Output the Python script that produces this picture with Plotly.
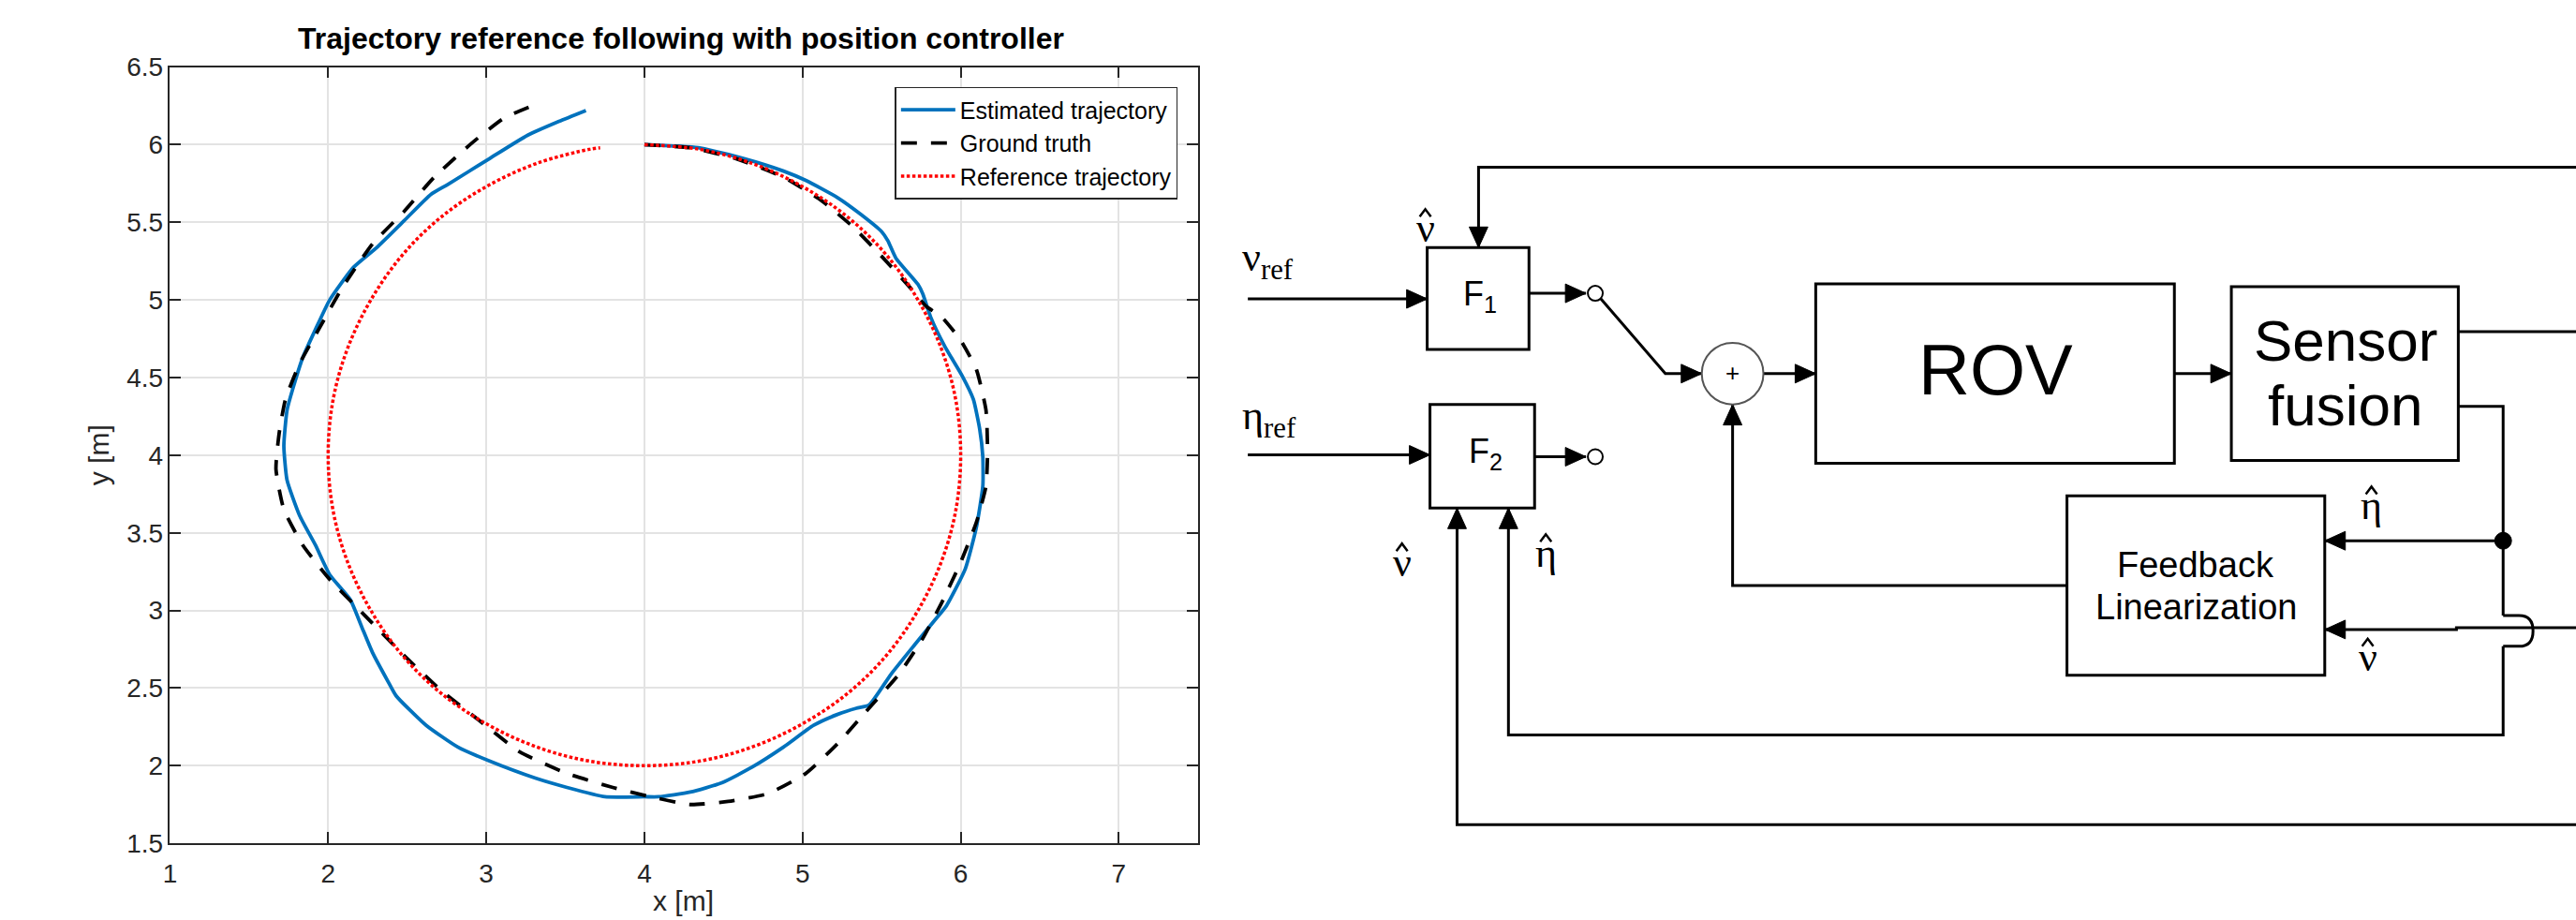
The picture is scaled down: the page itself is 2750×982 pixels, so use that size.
import plotly.graph_objects as go

# ---------------- data ----------------
est_x = [4.00, 4.34, 4.63, 4.88, 5.02, 5.22, 5.37, 5.50, 5.54, 5.59, 5.73, 5.76, 5.81, 5.90, 6.01, 6.08,
         6.12, 6.14, 6.14, 6.10, 6.03, 5.91, 5.83, 5.71, 5.56, 5.42, 5.34, 5.22, 5.07, 4.88, 4.68, 4.49,
         4.29, 4.09, 4.00, 3.75, 3.51, 3.31, 3.02, 2.82, 2.62, 2.43, 2.38, 2.28, 2.21, 2.14, 2.01, 1.92,
         1.82, 1.74, 1.72, 1.74, 1.78, 1.84, 1.92, 2.01, 2.16, 2.31, 2.48, 2.65, 2.75, 3.02, 3.26, 3.46, 3.63]
est_y = [6.00, 5.98, 5.91, 5.83, 5.77, 5.66, 5.55, 5.44, 5.38, 5.27, 5.10, 5.04, 4.89, 4.70, 4.51, 4.36,
         4.17, 3.99, 3.80, 3.54, 3.27, 3.03, 2.93, 2.78, 2.59, 2.39, 2.37, 2.33, 2.26, 2.12, 1.99, 1.89,
         1.83, 1.80, 1.80, 1.80, 1.86, 1.92, 2.03, 2.12, 2.26, 2.45, 2.54, 2.73, 2.90, 3.07, 3.23, 3.42,
         3.61, 3.84, 4.06, 4.29, 4.44, 4.63, 4.81, 5.00, 5.21, 5.34, 5.51, 5.68, 5.74, 5.91, 6.06, 6.15, 6.22]

gt_x = [4.00, 4.29, 4.58, 4.88, 5.12, 5.32, 5.51, 5.68, 5.78, 5.88, 6.00, 6.10, 6.16, 6.17, 6.16, 6.10,
        6.00, 5.88, 5.76, 5.61, 5.42, 5.22, 5.02, 4.78, 4.53, 4.29, 4.04, 3.80, 3.51, 3.21, 2.97, 2.72,
        2.48, 2.23, 2.01, 1.84, 1.72, 1.67, 1.69, 1.73, 1.82, 1.94, 2.09, 2.28, 2.48, 2.67, 2.92, 3.11, 3.29]
gt_y = [6.00, 5.98, 5.91, 5.79, 5.64, 5.47, 5.27, 5.08, 4.96, 4.89, 4.74, 4.55, 4.29, 4.02, 3.80, 3.57,
        3.31, 3.05, 2.82, 2.59, 2.37, 2.14, 1.95, 1.82, 1.77, 1.75, 1.80, 1.86, 1.95, 2.09, 2.28, 2.48,
        2.71, 2.97, 3.20, 3.42, 3.65, 3.91, 4.14, 4.36, 4.59, 4.81, 5.08, 5.36, 5.57, 5.79, 6.02, 6.17, 6.25]

ref_x = [4.00, 4.35, 4.68, 5.00, 5.29, 5.53, 5.73, 5.88, 5.97, 6.00, 5.97, 5.88, 5.73, 5.53, 5.29, 5.00,
         4.68, 4.35, 4.00, 3.65, 3.32, 3.00, 2.71, 2.47, 2.27, 2.12, 2.03, 2.00, 2.03, 2.12, 2.27, 2.47,
         2.71, 3.00, 3.32, 3.65, 3.72]
ref_y = [6.00, 5.97, 5.88, 5.73, 5.53, 5.29, 5.00, 4.68, 4.35, 4.00, 3.65, 3.32, 3.00, 2.71, 2.47, 2.27,
         2.12, 2.03, 2.00, 2.03, 2.12, 2.27, 2.47, 2.71, 3.00, 3.32, 3.65, 4.00, 4.35, 4.68, 5.00, 5.29,
         5.53, 5.73, 5.88, 5.97, 5.98]

series_names = ["Estimated trajectory", "Ground truth", "Reference trajectory"]
x_ticks = [1, 2, 3, 4, 5, 6, 7]
y_ticks = [1.5, 2, 2.5, 3, 3.5, 4, 4.5, 5, 5.5, 6, 6.5]
title_text = "Trajectory reference following with position controller"
x_label = "x [m]"
y_label = "y [m]"

# ---------------- block diagram (pixel layout) ----------------
W, H = 2750, 982
boxes = [(1520, 264, 1629, 373), (1523, 432, 1635, 543), (1936, 303, 2320, 495),
         (2381, 306, 2624, 492), (2205, 530, 2481, 722)]
box_texts = [("F<sub>1</sub>", 1577, 316, 36), ("F<sub>2</sub>", 1583, 484, 36), ("ROV", 2129, 395, 76),
             ("Sensor", 2503, 364, 62), ("fusion", 2503, 433, 62),
             ("Feedback", 2343, 604, 38), ("Linearization", 2343, 649, 38)]
wires = [
    ([(2750, 178), (1575, 178), (1575, 264)], True),
    ([(1328, 319), (1520, 319)], True),
    ([(1629, 313), (1690, 313)], True),
    ([(1706, 319), (1775, 399), (1814, 399)], True),
    ([(1880, 399), (1936, 399)], True),
    ([(2320, 399), (2381, 399)], True),
    ([(2624, 354), (2750, 354)], False),
    ([(2624, 434), (2672, 434), (2672, 658)], False),
    ([(2672, 691), (2672, 786), (1607, 786), (1607, 543)], True),
    ([(2672, 578), (2481, 578)], True),
    ([(2750, 671), (2622, 671), (2622, 673), (2481, 673)], True),
    ([(2205, 626), (1847, 626), (1847, 432)], True),
    ([(2750, 882), (1552, 882), (1552, 543)], True),
    ([(1635, 488), (1690, 488)], True),
    ([(1328, 486), (1523, 486)], True),
]
hop = [(2672, 658), (2689, 658), (2704, 658), (2704, 674.5), (2704, 691), (2689, 691), (2672, 691)]
small_circles = [(1700, 313), (1700, 488)]
sum_circle = (1847, 399, 33)
junction = (2672, 578)
# greek labels: (text, x, body-centre y, hat, anchor)
greek = [("ν", 1518, 248, True, "center"), ("ν<sub>ref</sub>", 1320, 282, False, "left"),
         ("η<sub>ref</sub>", 1320, 452, False, "left"),
         ("ν", 1493, 606, True, "center"), ("η", 1647, 596, True, "center"),
         ("η", 2531, 545, True, "center"), ("ν", 2527, 708, True, "center")]

# the page is shown slightly squeezed vertically about its middle; place things so they land right
SQ, MID = 0.9716, 491.0


def YC(y):
    return MID + (y - MID) / SQ


def PX(x):
    return x / W


def PY(y):
    return 1 - YC(y) / H


fig = go.Figure()

fig.add_trace(go.Scatter(x=est_x, y=est_y, mode="lines", name=series_names[0],
                         line=dict(color="#0072BD", width=3.8, shape="spline", smoothing=0.5)))
fig.add_trace(go.Scatter(x=gt_x, y=gt_y, mode="lines", name=series_names[1],
                         line=dict(color="black", width=3.8, dash="17px,15px", shape="spline", smoothing=0.5)))
fig.add_trace(go.Scatter(x=ref_x, y=ref_y, mode="lines", name=series_names[2],
                         line=dict(color="#FF0000", width=3.5, dash="3.5px,2.5px", shape="spline", smoothing=1)))

axcol = "#262626"
fig.update_layout(
    width=W, height=H, margin=dict(l=0, r=0, t=0, b=0),
    paper_bgcolor="white", plot_bgcolor="white",
    font=dict(family="Liberation Sans, Arial, Helvetica, sans-serif", color=axcol),
    xaxis=dict(domain=[174 / W, 1274.5 / W], range=[1, 7.5], tickvals=x_ticks, ticks="inside", ticklen=12,
               tickwidth=1.5, tickcolor=axcol, showline=True, linecolor=axcol, linewidth=1.5, mirror="ticks",
               showgrid=True, gridcolor="#E3E3E3", gridwidth=1.5, zeroline=False, ticklabelstandoff=6,
               tickfont=dict(size=28, color=axcol)),
    yaxis=dict(domain=[PY(902), PY(70.7)], range=[1.5, 6.5], tickvals=y_ticks,
               ticktext=[("%g" % v) for v in y_ticks], ticks="inside", ticklen=12,
               tickwidth=1.5, tickcolor=axcol, showline=True, linecolor=axcol, linewidth=1.5, mirror="ticks",
               showgrid=True, gridcolor="#E3E3E3", gridwidth=1.5, zeroline=False,
               tickfont=dict(size=28, color=axcol)),
    legend=dict(x=1253 / W, y=PY(92), xanchor="right", yanchor="top", bgcolor="white",
                bordercolor=axcol, borderwidth=1.5, font=dict(size=25, color="black"),
                tracegroupgap=0, itemwidth=58),
    showlegend=True,
)

ann = []
ann.append(dict(text="<b>" + title_text + "</b>", x=721 / W, y=PY(40), xref="paper", yref="paper",
                showarrow=False, font=dict(size=32, color="black"), xanchor="center", yanchor="middle"))
ann.append(dict(text=y_label, x=98 / W, y=PY(486), xref="paper", yref="paper", textangle=-90,
                showarrow=False, font=dict(size=30, color=axcol), xanchor="center", yanchor="middle"))
ann.append(dict(text=x_label, x=724 / W, y=PY(964), xref="paper", yref="paper",
                showarrow=False, font=dict(size=30, color=axcol), xanchor="center", yanchor="middle"))

shapes = []
LW = 3
for (x0, y0, x1, y1) in boxes:
    shapes.append(dict(type="rect", xref="paper", yref="paper", x0=PX(x0), y0=PY(y0), x1=PX(x1), y1=PY(y1),
                       line=dict(color="black", width=LW)))
for t, x, y, s in box_texts:
    ann.append(dict(text=t, x=PX(x), y=PY(y), xref="paper", yref="paper", showarrow=False,
                    font=dict(size=s, color="black"), xanchor="center", yanchor="middle"))


def P(x, y):
    return "%.6f,%.6f" % (PX(x), PY(y))


def arrow_path(p_prev, tip, L=22, hw=10):
    dx, dy = tip[0] - p_prev[0], tip[1] - p_prev[1]
    n = (dx * dx + dy * dy) ** 0.5
    ux, uy = dx / n, dy / n
    bx, by = tip[0] - ux * L, tip[1] - uy * L
    px, py = -uy, ux
    return "M%s L%s L%s Z" % (P(*tip), P(bx + px * hw, by + py * hw), P(bx - px * hw, by - py * hw))


for pts, has_arrow in wires:
    path = "M" + " L".join(P(*p) for p in pts)
    shapes.append(dict(type="path", xref="paper", yref="paper", path=path, line=dict(color="black", width=LW)))
    if has_arrow:
        shapes.append(dict(type="path", xref="paper", yref="paper", path=arrow_path(pts[-2], pts[-1]),
                           fillcolor="black", line=dict(color="black", width=1)))

shapes.append(dict(type="path", xref="paper", yref="paper",
                   path="M%s L%s Q%s %s Q%s %s L%s" % tuple(P(*p) for p in hop),
                   line=dict(color="black", width=LW)))
for cx, cy in small_circles:
    shapes.append(dict(type="circle", xref="paper", yref="paper", x0=PX(cx - 8), x1=PX(cx + 8),
                       y0=PY(cy - 8), y1=PY(cy + 8), line=dict(color="black", width=2)))
cx, cy, r = sum_circle
shapes.append(dict(type="circle", xref="paper", yref="paper", x0=PX(cx - r), x1=PX(cx + r), y0=PY(cy - r),
                   y1=PY(cy + r), line=dict(color="#555555", width=2)))
ann.append(dict(text="+", x=PX(cx), y=PY(cy - 1), xref="paper", yref="paper", showarrow=False,
                font=dict(size=26, color="black"), xanchor="center", yanchor="middle"))
jx, jy = junction
shapes.append(dict(type="circle", xref="paper", yref="paper", x0=PX(jx - 9), x1=PX(jx + 9), y0=PY(jy - 9),
                   y1=PY(jy + 9), fillcolor="black", line=dict(color="black", width=1)))

GS = 44
for t, x, bc, hat, anch in greek:
    ann.append(dict(text=t, x=PX(x), y=PY(bc - 5), xref="paper", yref="paper", showarrow=False,
                    font=dict(size=GS, color="black", family="Liberation Serif, Times New Roman, serif"),
                    xanchor=anch, yanchor="middle"))
    if hat:
        shapes.append(dict(type="path", xref="paper", yref="paper",
                           path="M%s L%s L%s" % (P(x - 6, bc - 17), P(x, bc - 25), P(x + 6, bc - 17)),
                           line=dict(color="black", width=2.5)))

fig.update_layout(annotations=ann, shapes=shapes)
fig.write_html("out.html", config={"displayModeBar": False},
               post_script="document.body.style.margin='0px';document.body.style.overflow='hidden';")
